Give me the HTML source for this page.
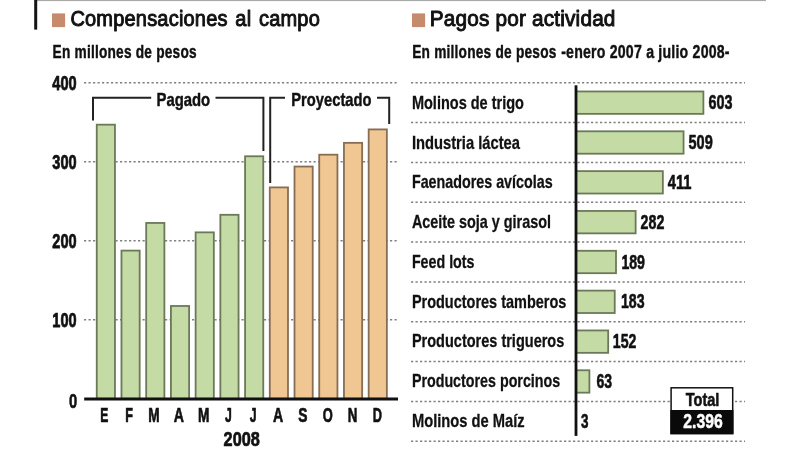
<!DOCTYPE html>
<html lang="es"><head><meta charset="utf-8"><title>Compensaciones al campo</title>
<style>html,body{margin:0;padding:0;background:#fff;}body{width:800px;height:450px;overflow:hidden;}svg{display:block;font-family:'Liberation Sans', sans-serif;}</style>
</head><body>
<svg width="800" height="450" viewBox="0 0 800 450" role="img" aria-label="Compensaciones al campo / Pagos por actividad">
<rect width="800" height="450" fill="#fff"/>
<rect x="36" y="0" width="730" height="1.1" fill="#a9a9a9"/>
<rect x="34.2" y="0" width="3" height="29.6" fill="#141414"/>
<rect x="52" y="13.4" width="13.1" height="13.7" fill="#c68a6c"/>
<rect x="412" y="13.4" width="13.1" height="13.7" fill="#c68a6c"/>
<text x="70.4" y="25.7" font-size="22.8" font-weight="normal" fill="#111" stroke="#111" stroke-width="1.0" stroke-linejoin="round" word-spacing="2.2" letter-spacing="0.2" textLength="249.6" lengthAdjust="spacingAndGlyphs">Compensaciones al campo</text>
<text x="429.8" y="25.7" font-size="22.8" font-weight="normal" fill="#111" stroke="#111" stroke-width="1.0" stroke-linejoin="round" letter-spacing="0.2" textLength="185.8" lengthAdjust="spacingAndGlyphs">Pagos por actividad</text>
<text x="52.6" y="57.9" font-size="19.2" font-weight="bold" fill="#111" stroke="#111" stroke-width="0.45" stroke-linejoin="round" letter-spacing="0.3" textLength="144.2" lengthAdjust="spacingAndGlyphs">En millones de pesos</text>
<text y="57.9" font-size="19.2" font-weight="bold" fill="#111" stroke="#111" stroke-width="0.45" stroke-linejoin="round" letter-spacing="0.3" xml:space="preserve"><tspan x="412.2" textLength="144.4" lengthAdjust="spacingAndGlyphs">En millones de pesos</tspan><tspan x="557.0" textLength="172.8" lengthAdjust="spacingAndGlyphs"> -enero 2007 a julio 2008-</tspan></text>
<line x1="84" y1="82.80" x2="397" y2="82.80" stroke="#808080" stroke-width="1.5" stroke-dasharray="2.2 2.3"/>
<line x1="84" y1="161.80" x2="397" y2="161.80" stroke="#808080" stroke-width="1.5" stroke-dasharray="2.2 2.3"/>
<line x1="84" y1="240.80" x2="397" y2="240.80" stroke="#808080" stroke-width="1.5" stroke-dasharray="2.2 2.3"/>
<line x1="84" y1="319.80" x2="397" y2="319.80" stroke="#808080" stroke-width="1.5" stroke-dasharray="2.2 2.3"/>
<text x="52.3" y="89.8" font-size="19.6" font-weight="bold" fill="#111" stroke="#111" stroke-width="0.75" stroke-linejoin="round" textLength="24.3" lengthAdjust="spacingAndGlyphs">400</text>
<text x="52.3" y="168.8" font-size="19.6" font-weight="bold" fill="#111" stroke="#111" stroke-width="0.75" stroke-linejoin="round" textLength="24.3" lengthAdjust="spacingAndGlyphs">300</text>
<text x="52.3" y="247.8" font-size="19.6" font-weight="bold" fill="#111" stroke="#111" stroke-width="0.75" stroke-linejoin="round" textLength="24.3" lengthAdjust="spacingAndGlyphs">200</text>
<text x="52.3" y="326.8" font-size="19.6" font-weight="bold" fill="#111" stroke="#111" stroke-width="0.75" stroke-linejoin="round" textLength="24.3" lengthAdjust="spacingAndGlyphs">100</text>
<text x="68.9" y="407.5" font-size="19.6" font-weight="bold" fill="#111" stroke="#111" stroke-width="0.6" stroke-linejoin="round" textLength="8.2" lengthAdjust="spacingAndGlyphs">0</text>
<rect x="96.75" y="124.67" width="18.2" height="274.13" fill="#c5dba5" stroke="#6b7959" stroke-width="1.8"/>
<rect x="121.47" y="250.60" width="18.2" height="148.20" fill="#c5dba5" stroke="#6b7959" stroke-width="1.8"/>
<rect x="146.19" y="222.95" width="18.2" height="175.85" fill="#c5dba5" stroke="#6b7959" stroke-width="1.8"/>
<rect x="170.91" y="305.98" width="18.2" height="92.82" fill="#c5dba5" stroke="#6b7959" stroke-width="1.8"/>
<rect x="195.63" y="232.35" width="18.2" height="166.45" fill="#c5dba5" stroke="#6b7959" stroke-width="1.8"/>
<rect x="220.35" y="214.81" width="18.2" height="183.99" fill="#c5dba5" stroke="#6b7959" stroke-width="1.8"/>
<rect x="245.07" y="156.27" width="18.2" height="242.53" fill="#c5dba5" stroke="#6b7959" stroke-width="1.8"/>
<rect x="269.79" y="187.40" width="18.2" height="211.40" fill="#f0c692" stroke="#876d54" stroke-width="1.8"/>
<rect x="294.51" y="166.54" width="18.2" height="232.26" fill="#f0c692" stroke="#876d54" stroke-width="1.8"/>
<rect x="319.23" y="154.69" width="18.2" height="244.11" fill="#f0c692" stroke="#876d54" stroke-width="1.8"/>
<rect x="343.95" y="142.84" width="18.2" height="255.96" fill="#f0c692" stroke="#876d54" stroke-width="1.8"/>
<rect x="368.67" y="129.41" width="18.2" height="269.39" fill="#f0c692" stroke="#876d54" stroke-width="1.8"/>
<rect x="84.2" y="397.50" width="313.8" height="3" fill="#111"/>
<text x="100.3" y="421.7" font-size="20" font-weight="bold" fill="#111" stroke="#111" stroke-width="0.7" stroke-linejoin="round" textLength="8.1" lengthAdjust="spacingAndGlyphs">E</text>
<text x="125.31" y="421.7" font-size="20" font-weight="bold" fill="#111" stroke="#111" stroke-width="0.7" stroke-linejoin="round" textLength="7.7" lengthAdjust="spacingAndGlyphs">F</text>
<text x="148.27" y="421.7" font-size="20" font-weight="bold" fill="#111" stroke="#111" stroke-width="0.7" stroke-linejoin="round" textLength="11.4" lengthAdjust="spacingAndGlyphs">M</text>
<text x="173.68" y="421.7" font-size="20" font-weight="bold" fill="#111" stroke="#111" stroke-width="0.7" stroke-linejoin="round" textLength="10.2" lengthAdjust="spacingAndGlyphs">A</text>
<text x="197.89" y="421.7" font-size="20" font-weight="bold" fill="#111" stroke="#111" stroke-width="0.7" stroke-linejoin="round" textLength="11.4" lengthAdjust="spacingAndGlyphs">M</text>
<text x="225.0" y="421.7" font-size="20" font-weight="bold" fill="#111" stroke="#111" stroke-width="0.7" stroke-linejoin="round" textLength="6.8" lengthAdjust="spacingAndGlyphs">J</text>
<text x="249.81" y="421.7" font-size="20" font-weight="bold" fill="#111" stroke="#111" stroke-width="0.7" stroke-linejoin="round" textLength="6.8" lengthAdjust="spacingAndGlyphs">J</text>
<text x="272.92" y="421.7" font-size="20" font-weight="bold" fill="#111" stroke="#111" stroke-width="0.7" stroke-linejoin="round" textLength="10.2" lengthAdjust="spacingAndGlyphs">A</text>
<text x="298.23" y="421.7" font-size="20" font-weight="bold" fill="#111" stroke="#111" stroke-width="0.7" stroke-linejoin="round" textLength="9.2" lengthAdjust="spacingAndGlyphs">S</text>
<text x="322.64" y="421.7" font-size="20" font-weight="bold" fill="#111" stroke="#111" stroke-width="0.7" stroke-linejoin="round" textLength="10.0" lengthAdjust="spacingAndGlyphs">O</text>
<text x="347.65" y="421.7" font-size="20" font-weight="bold" fill="#111" stroke="#111" stroke-width="0.7" stroke-linejoin="round" textLength="9.6" lengthAdjust="spacingAndGlyphs">N</text>
<text x="372.66" y="421.7" font-size="20" font-weight="bold" fill="#111" stroke="#111" stroke-width="0.7" stroke-linejoin="round" textLength="9.2" lengthAdjust="spacingAndGlyphs">D</text>
<text x="223.6" y="446.2" font-size="20.3" font-weight="bold" fill="#111" stroke="#111" stroke-width="0.7" stroke-linejoin="round" textLength="36.2" lengthAdjust="spacingAndGlyphs">2008</text>
<path d="M93 120.6 V97.8 H151.2" fill="none" stroke="#222" stroke-width="2"/>
<path d="M215.5 97.8 H263.4 V151" fill="none" stroke="#222" stroke-width="2"/>
<path d="M270.2 183 V97.8 H285" fill="none" stroke="#222" stroke-width="2"/>
<path d="M377 97.8 H389.2 V124" fill="none" stroke="#222" stroke-width="2"/>
<text x="156.5" y="105.8" font-size="18.6" font-weight="bold" fill="#111" stroke="#111" stroke-width="0.45" stroke-linejoin="round" textLength="53.7" lengthAdjust="spacingAndGlyphs">Pagado</text>
<text x="291.3" y="105.8" font-size="18.6" font-weight="bold" fill="#111" stroke="#111" stroke-width="0.45" stroke-linejoin="round" textLength="80.2" lengthAdjust="spacingAndGlyphs">Proyectado</text>
<line x1="411" y1="82.75" x2="745" y2="82.75" stroke="#808080" stroke-width="1.5" stroke-dasharray="2.2 2.3"/>
<line x1="411" y1="122.58" x2="745" y2="122.58" stroke="#808080" stroke-width="1.5" stroke-dasharray="2.2 2.3"/>
<line x1="411" y1="162.41" x2="745" y2="162.41" stroke="#808080" stroke-width="1.5" stroke-dasharray="2.2 2.3"/>
<line x1="411" y1="202.24" x2="745" y2="202.24" stroke="#808080" stroke-width="1.5" stroke-dasharray="2.2 2.3"/>
<line x1="411" y1="242.07" x2="745" y2="242.07" stroke="#808080" stroke-width="1.5" stroke-dasharray="2.2 2.3"/>
<line x1="411" y1="281.90" x2="745" y2="281.90" stroke="#808080" stroke-width="1.5" stroke-dasharray="2.2 2.3"/>
<line x1="411" y1="321.73" x2="745" y2="321.73" stroke="#808080" stroke-width="1.5" stroke-dasharray="2.2 2.3"/>
<line x1="411" y1="361.56" x2="745" y2="361.56" stroke="#808080" stroke-width="1.5" stroke-dasharray="2.2 2.3"/>
<line x1="411" y1="401.39" x2="745" y2="401.39" stroke="#808080" stroke-width="1.5" stroke-dasharray="2.2 2.3"/>
<line x1="411" y1="441.22" x2="745" y2="441.22" stroke="#808080" stroke-width="1.5" stroke-dasharray="2.2 2.3"/>
<text x="411.9" y="108.9" font-size="18.2" font-weight="bold" fill="#111" stroke="#111" stroke-width="0.28" stroke-linejoin="round" textLength="112.1" lengthAdjust="spacingAndGlyphs">Molinos de trigo</text>
<rect x="576.00" y="91.46" width="127.39" height="22.4" fill="#c5dba5" stroke="#6b7959" stroke-width="1.8"/>
<text x="708.6" y="109.2" font-size="20" font-weight="bold" fill="#111" stroke="#111" stroke-width="0.6" stroke-linejoin="round" textLength="24.0" lengthAdjust="spacingAndGlyphs">603</text>
<text x="411.9" y="148.6" font-size="18.2" font-weight="bold" fill="#111" stroke="#111" stroke-width="0.28" stroke-linejoin="round" textLength="108.1" lengthAdjust="spacingAndGlyphs">Industria láctea</text>
<rect x="576.00" y="131.30" width="107.55" height="22.4" fill="#c5dba5" stroke="#6b7959" stroke-width="1.8"/>
<text x="688.5" y="149.0" font-size="20" font-weight="bold" fill="#111" stroke="#111" stroke-width="0.6" stroke-linejoin="round" textLength="24.2" lengthAdjust="spacingAndGlyphs">509</text>
<text x="411.9" y="188.4" font-size="18.2" font-weight="bold" fill="#111" stroke="#111" stroke-width="0.28" stroke-linejoin="round" textLength="140.7" lengthAdjust="spacingAndGlyphs">Faenadores avícolas</text>
<rect x="576.00" y="171.12" width="86.86" height="22.4" fill="#c5dba5" stroke="#6b7959" stroke-width="1.8"/>
<text x="667.7" y="188.8" font-size="20" font-weight="bold" fill="#111" stroke="#111" stroke-width="0.6" stroke-linejoin="round" textLength="23.8" lengthAdjust="spacingAndGlyphs">411</text>
<text x="411.9" y="228.1" font-size="18.2" font-weight="bold" fill="#111" stroke="#111" stroke-width="0.28" stroke-linejoin="round" textLength="139.1" lengthAdjust="spacingAndGlyphs">Aceite soja y girasol</text>
<rect x="576.00" y="210.96" width="59.63" height="22.4" fill="#c5dba5" stroke="#6b7959" stroke-width="1.8"/>
<text x="640.6" y="228.7" font-size="20" font-weight="bold" fill="#111" stroke="#111" stroke-width="0.6" stroke-linejoin="round" textLength="23.8" lengthAdjust="spacingAndGlyphs">282</text>
<text x="411.9" y="267.9" font-size="18.2" font-weight="bold" fill="#111" stroke="#111" stroke-width="0.28" stroke-linejoin="round" textLength="62.6" lengthAdjust="spacingAndGlyphs">Feed lots</text>
<rect x="576.00" y="250.79" width="40.00" height="22.4" fill="#c5dba5" stroke="#6b7959" stroke-width="1.8"/>
<text x="621.4" y="268.5" font-size="20" font-weight="bold" fill="#111" stroke="#111" stroke-width="0.6" stroke-linejoin="round" textLength="23.6" lengthAdjust="spacingAndGlyphs">189</text>
<text x="411.9" y="307.6" font-size="18.2" font-weight="bold" fill="#111" stroke="#111" stroke-width="0.28" stroke-linejoin="round" textLength="154.4" lengthAdjust="spacingAndGlyphs">Productores tamberos</text>
<rect x="576.00" y="290.62" width="38.73" height="22.4" fill="#c5dba5" stroke="#6b7959" stroke-width="1.8"/>
<text x="621.0" y="308.3" font-size="20" font-weight="bold" fill="#111" stroke="#111" stroke-width="0.6" stroke-linejoin="round" textLength="23.6" lengthAdjust="spacingAndGlyphs">183</text>
<text x="411.9" y="347.3" font-size="18.2" font-weight="bold" fill="#111" stroke="#111" stroke-width="0.28" stroke-linejoin="round" textLength="152.4" lengthAdjust="spacingAndGlyphs">Productores trigueros</text>
<rect x="576.00" y="330.44" width="32.19" height="22.4" fill="#c5dba5" stroke="#6b7959" stroke-width="1.8"/>
<text x="612.8" y="348.1" font-size="20" font-weight="bold" fill="#111" stroke="#111" stroke-width="0.6" stroke-linejoin="round" textLength="23.6" lengthAdjust="spacingAndGlyphs">152</text>
<text x="411.9" y="387.1" font-size="18.2" font-weight="bold" fill="#111" stroke="#111" stroke-width="0.28" stroke-linejoin="round" textLength="148.3" lengthAdjust="spacingAndGlyphs">Productores porcinos</text>
<rect x="576.00" y="370.27" width="13.40" height="22.4" fill="#c5dba5" stroke="#6b7959" stroke-width="1.8"/>
<text x="596.5" y="388.0" font-size="20" font-weight="bold" fill="#111" stroke="#111" stroke-width="0.6" stroke-linejoin="round" textLength="15.6" lengthAdjust="spacingAndGlyphs">63</text>
<text x="411.9" y="426.8" font-size="18.2" font-weight="bold" fill="#111" stroke="#111" stroke-width="0.28" stroke-linejoin="round" textLength="112.8" lengthAdjust="spacingAndGlyphs">Molinos de Maíz</text>
<text x="581.0" y="427.8" font-size="20" font-weight="bold" fill="#111" stroke="#111" stroke-width="0.6" stroke-linejoin="round" textLength="7.5" lengthAdjust="spacingAndGlyphs">3</text>
<rect x="574.60" y="85.3" width="2.8" height="350.6" fill="#111"/>
<rect x="671.1" y="387.8" width="61.6" height="45.7" fill="#fff" stroke="#111" stroke-width="1.5"/>
<rect x="670.35" y="410" width="63.1" height="24.25" fill="#0a0a0a"/>
<text x="685.8" y="405.6" font-size="19" font-weight="bold" fill="#111" stroke="#111" stroke-width="0.6" stroke-linejoin="round" textLength="33.6" lengthAdjust="spacingAndGlyphs">Total</text>
<text x="683.3" y="428.1" font-size="19.4" font-weight="bold" fill="#fff" stroke="#fff" stroke-width="0.5" stroke-linejoin="round" textLength="39.4" lengthAdjust="spacingAndGlyphs">2.396</text>
</svg>
</body></html>
